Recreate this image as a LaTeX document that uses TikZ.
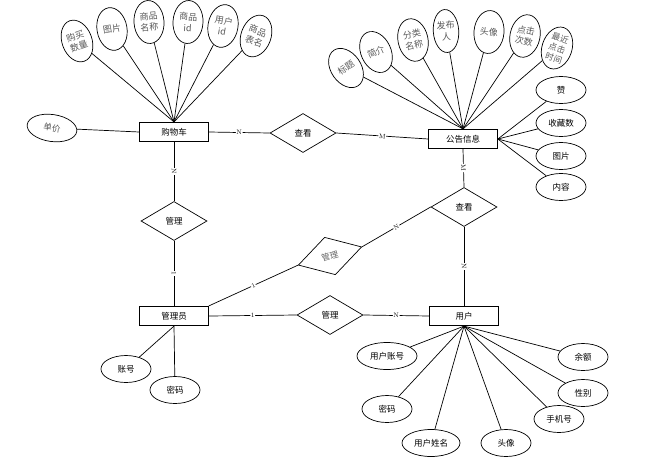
\documentclass[tikz,border=0pt]{standalone}
\usepackage{fontspec}
\newfontfamily\cjk{Noto Sans CJK SC}
\usetikzlibrary{shapes.geometric}
\begin{document}
\begin{tikzpicture}[x=1pt,y=-1pt, line width=0.7pt,
 ent/.style={draw, rectangle, minimum width=69pt, minimum height=19.5pt, inner sep=0pt, font=\cjk\fontsize{8.5}{10}\selectfont},
 rel/.style={draw, diamond, minimum width=66pt, minimum height=39pt, inner sep=0pt, font=\cjk\fontsize{8.5}{10}\selectfont},
 attv/.style={draw, ellipse, inner sep=0pt, minimum width=30pt, minimum height=43pt, align=center, font=\cjk\fontsize{9}{11}\selectfont, text=black!65},
 atth/.style={draw, ellipse, inner sep=0pt, minimum width=50pt, minimum height=27pt, font=\cjk\fontsize{8.5}{10}\selectfont},
 lab/.style={font=\fontsize{6.5}{6.5}\selectfont, fill=white, inner sep=0.6pt, sloped},
]
\fill[white] (0,0) rectangle (656,461);
\useasboundingbox (0,0) rectangle (656,461);

% entities
\node[ent] (gwc) at (174,132) {购物车};
\node[ent] (ggx) at (463,139) {公告信息};
\node[ent] (gly) at (174,316) {管理员};
\node[ent] (yh)  at (464,316) {用户};

% relationships
\node[rel] (ck1) at (303,133) {查看};
\node[rel] (gl1) at (174,221) {管理};
\node[rel] (ck2) at (464,207) {查看};
\node[rel, rotate=16, text=black!60] (gl2) at (330,256) {管理};
\node[rel] (gl3) at (330,315) {管理};

% relationship lines
\draw (gwc.east) -- node[lab] {N} (ck1.west);
\draw (ck1.east) -- node[lab] {M} (ggx.west);
\draw (gwc.south) -- node[lab] {N} (gl1.north);
\draw (gl1.south) -- node[lab] {1} (gly.north);
\draw (ggx.south) -- node[lab] {M} (ck2.north);
\draw (ck2.south) -- node[lab] {N} (yh.north);
\draw (gly.north east) -- node[lab] {1} (gl2.west);
\draw (gl2.east) -- node[lab] {N} (ck2.west);
\draw (gly.east) -- node[lab] {1} (gl3.west);
\draw (gl3.east) -- node[lab] {N} (yh.west);

% shopping cart attributes
\node[attv, rotate=20]  (a1) at (77,41)  {购买\\数量};
\node[attv, rotate=10]  (a2) at (112,29) {图片};
\node[attv, rotate=4]   (a3) at (149,22) {商品\\名称};
\node[attv, rotate=-3]  (a4) at (188,22) {商品\\id};
\node[attv, rotate=-10] (a5) at (223,26) {用户\\id};
\node[attv, rotate=-20] (a6) at (256,36) {商品\\表名};
\node[atth, rotate=-8, text=black!65] (a7) at (52,128) {单价};
\foreach \n in {a1,a2,a3,a4,a5,a6} \draw (\n) -- (gwc.north);
\draw (a7) -- (gwc.west);

% notice attributes
\node[attv, rotate=35]  (b1) at (346,68) {标题};
\node[attv, rotate=25]  (b2) at (376,52) {简介};
\node[attv, rotate=12]  (b3) at (413,40) {分类\\名称};
\node[attv, rotate=4, minimum width=24pt] (b4) at (446,31) {发布\\人};
\node[attv, rotate=-5]  (b5) at (489,32) {头像};
\node[attv, rotate=-12] (b6) at (525,36) {点击\\次数};
\node[attv, rotate=-18, inner sep=-2.5pt, font=\cjk\fontsize{8.5}{10.5}\selectfont] (b7) at (557,48) {最近\\点击\\时间};
\foreach \n in {b1,b2,b3,b4,b5,b6,b7} \draw (\n) -- (ggx.north);
\node[atth] (c1) at (561,90)  {赞};
\node[atth] (c2) at (561,123) {收藏数};
\node[atth] (c3) at (561,156) {图片};
\node[atth] (c4) at (561,187) {内容};
\foreach \n in {c1,c2,c3,c4} \draw (ggx.east) -- (\n);

% admin attributes
\node[atth] (d1) at (126,369) {账号};
\node[atth] (d2) at (175,390) {密码};
\draw (gly.south) -- (d1);
\draw (gly.south) -- (d2);

% user attributes
\node[atth, minimum width=60pt] (e1) at (387,356) {用户账号};
\node[atth] (e2) at (387,409) {密码};
\node[atth, minimum width=58pt] (e3) at (431,443) {用户姓名};
\node[atth] (e4) at (506,443) {头像};
\node[atth] (e5) at (559,419) {手机号};
\node[atth] (e6) at (583,393) {性别};
\node[atth] (e7) at (583,357) {余额};
\foreach \n in {e1,e2,e3,e4,e5,e6,e7} \draw (yh.south) -- (\n);
\end{tikzpicture}
\end{document}
